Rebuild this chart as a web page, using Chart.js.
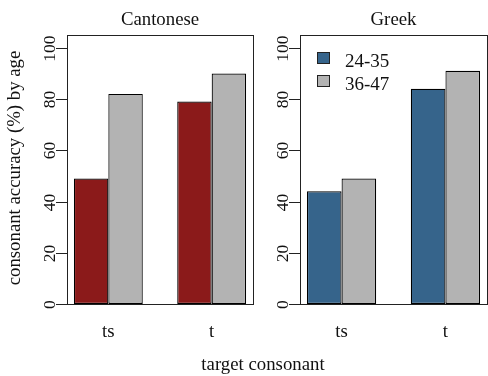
<!DOCTYPE html>
<html>
<head>
<meta charset="utf-8">
<script src="https://cdn.jsdelivr.net/npm/chart.js@4"></script>
<style>
  html, body { margin: 0; padding: 0; background: #fff; }
  #wrap { position: relative; width: 488px; height: 376px; }
  #wrap canvas { position: absolute; left: 0; top: 0; }
</style>
</head>
<body>
<div id="wrap">
  <canvas id="cantonese" width="488" height="376"></canvas>
  <canvas id="greek" width="488" height="376"></canvas>
</div>
<script>
// Data
const consonants = ['ts', 't'];
const ageGroups = ['24-35', '36-47'];
const cantoneseYoung = [49, 79];
const cantoneseOld = [82, 90];
const greekYoung = [44, 84];
const greekOld = [49, 91];
const yTicks = [0, 20, 40, 60, 80, 100];

const FONT = '"Liberation Serif", "Times New Roman", serif';
const GREY = '#B3B3B3';

// barplot(beside=TRUE) puts group i at x = 2 + 3*i, bars one unit wide
const groupX = i => 2 + 3 * i;
const toPoints = vals => vals.map((v, i) => ({ x: groupX(i), y: v }));

function makeDatasets(young, old, colour) {
    return [young, old].map((vals, k) => ({
        label: ageGroups[k],
        data: toPoints(vals),
        backgroundColor: k === 0 ? colour : GREY,
        borderColor: '#000',
        borderWidth: 1.2,
        borderSkipped: false,
        categoryPercentage: 2 / 3,
        barPercentage: 1
    }));
}

// draws the R-style frame, axis, titles and legend
function panelPlugin(cfg) {
    return {
        id: 'panel',
        afterDraw(chart) {
            const ctx = chart.ctx;
            const a = chart.chartArea;
            const ys = chart.scales.y;
            const xs = chart.scales.x;
            ctx.save();
            ctx.strokeStyle = '#222';
            ctx.lineWidth = 1;
            ctx.strokeRect(Math.round(a.left) + 0.5, Math.round(a.top) + 0.5,
                Math.round(a.right - a.left), Math.round(a.bottom - a.top));

            ctx.fillStyle = '#111';
            ctx.font = '17.5px ' + FONT;
            yTicks.forEach(v => {
                const y = Math.round(ys.getPixelForValue(v)) + 0.5;
                ctx.beginPath();
                ctx.moveTo(a.left - 11, y);
                ctx.lineTo(a.left, y);
                ctx.stroke();
                ctx.save();
                ctx.translate(a.left - 12.5, y);
                ctx.rotate(-Math.PI / 2);
                ctx.textAlign = 'center';
                ctx.textBaseline = 'alphabetic';
                ctx.fillText(String(v), 0, 0);
                ctx.restore();
            });

            ctx.font = '18.8px ' + FONT;
            ctx.textAlign = 'center';
            ctx.textBaseline = 'alphabetic';
            consonants.forEach((c, i) => {
                ctx.fillText(c, xs.getPixelForValue(groupX(i)), 337);
            });

            ctx.fillText(cfg.title, (a.left + a.right) / 2, 25);

            if (cfg.yTitle) {
                ctx.save();
                ctx.translate(19.5, 168);
                ctx.rotate(-Math.PI / 2);
                ctx.fillText(cfg.yTitle, 0, 0);
                ctx.restore();
            }
            if (cfg.xTitle) {
                ctx.fillText(cfg.xTitle, 263, 370);
            }
            if (cfg.legend) {
                ctx.font = '19px ' + FONT;
                ctx.textAlign = 'left';
                chart.data.datasets.forEach((ds, k) => {
                    const top = 52 + k * 23;
                    ctx.fillStyle = ds.backgroundColor;
                    ctx.fillRect(317, top, 13, 12);
                    ctx.strokeRect(317.5, top + 0.5, 12, 11);
                    ctx.fillStyle = '#111';
                    ctx.fillText(ds.label, 345, 67 + k * 23);
                });
            }
            ctx.restore();
        }
    };
}

function makeChart(id, datasets, padding, cfg) {
    return new Chart(document.getElementById(id), {
        type: 'bar',
        data: { datasets: datasets },
        options: {
            responsive: false,
            animation: false,
            devicePixelRatio: 1,
            layout: { padding: padding },
            plugins: { legend: { display: false }, tooltip: { enabled: false } },
            scales: {
                x: {
                    type: 'linear', min: 0.8, max: 6.2, display: false, offset: false,
                    grid: { offset: false },
                    afterBuildTicks: s => { s.ticks = consonants.map((c, i) => ({ value: groupX(i) })); }
                },
                y: { min: 0, max: 105, display: false }
            }
        },
        plugins: [panelPlugin(cfg)]
    });
}

window.onload = function() {
    makeChart('cantonese', makeDatasets(cantoneseYoung, cantoneseOld, '#8B1A1A'),
        { left: 67, top: 35, right: 235, bottom: 72 },
        { title: 'Cantonese', yTitle: 'consonant accuracy (%) by age', xTitle: 'target consonant' });
    makeChart('greek', makeDatasets(greekYoung, greekOld, '#36648B'),
        { left: 300, top: 35, right: 1, bottom: 72 },
        { title: 'Greek', legend: true });
};
</script>
</body>
</html>
